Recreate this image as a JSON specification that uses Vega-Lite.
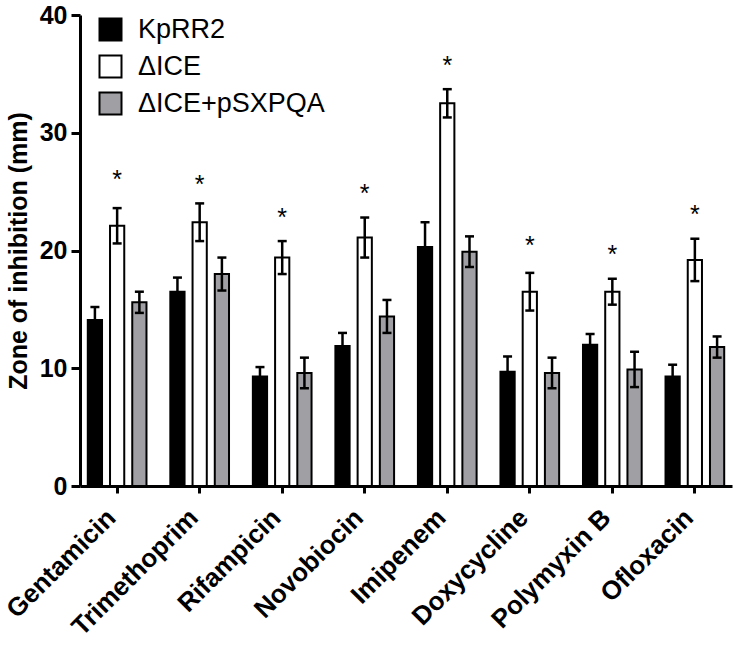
{
  "$schema": "https://vega.github.io/schema/vega-lite/v6.json",
  "width": 652,
  "height": 471,
  "autosize": "none",
  "padding": {"left": 80, "top": 15, "right": 6, "bottom": 161},
  "background": "white",
  "config": {
    "view": {"stroke": null},
    "font": "Liberation Sans",
    "axis": {"grid": false, "domainColor": "black", "tickColor": "black", "labelColor": "black", "titleColor": "black"}
  },
  "data": {
    "values": [
      {"drug": "Gentamicin", "strain": "KpRR2", "mean": 14.1, "lo": 13.0, "hi": 15.2},
      {"drug": "Gentamicin", "strain": "ΔICE", "mean": 22.1, "lo": 20.6, "hi": 23.6, "star": 26.5},
      {"drug": "Gentamicin", "strain": "ΔICE+pSXPQA", "mean": 15.6, "lo": 14.7, "hi": 16.5},
      {"drug": "Trimethoprim", "strain": "KpRR2", "mean": 16.5, "lo": 15.3, "hi": 17.7},
      {"drug": "Trimethoprim", "strain": "ΔICE", "mean": 22.4, "lo": 20.8, "hi": 24.0, "star": 26.1},
      {"drug": "Trimethoprim", "strain": "ΔICE+pSXPQA", "mean": 18.0, "lo": 16.6, "hi": 19.4},
      {"drug": "Rifampicin", "strain": "KpRR2", "mean": 9.3, "lo": 8.5, "hi": 10.1},
      {"drug": "Rifampicin", "strain": "ΔICE", "mean": 19.4, "lo": 18.0, "hi": 20.8, "star": 23.3},
      {"drug": "Rifampicin", "strain": "ΔICE+pSXPQA", "mean": 9.6, "lo": 8.3, "hi": 10.9},
      {"drug": "Novobiocin", "strain": "KpRR2", "mean": 11.9, "lo": 10.8, "hi": 13.0},
      {"drug": "Novobiocin", "strain": "ΔICE", "mean": 21.1, "lo": 19.4, "hi": 22.8, "star": 25.3},
      {"drug": "Novobiocin", "strain": "ΔICE+pSXPQA", "mean": 14.4, "lo": 13.0, "hi": 15.8},
      {"drug": "Imipenem", "strain": "KpRR2", "mean": 20.3, "lo": 18.2, "hi": 22.4},
      {"drug": "Imipenem", "strain": "ΔICE", "mean": 32.5, "lo": 31.3, "hi": 33.7, "star": 36.2},
      {"drug": "Imipenem", "strain": "ΔICE+pSXPQA", "mean": 19.9, "lo": 18.6, "hi": 21.2},
      {"drug": "Doxycycline", "strain": "KpRR2", "mean": 9.7, "lo": 8.4, "hi": 11.0},
      {"drug": "Doxycycline", "strain": "ΔICE", "mean": 16.5, "lo": 14.9, "hi": 18.1, "star": 20.9},
      {"drug": "Doxycycline", "strain": "ΔICE+pSXPQA", "mean": 9.6, "lo": 8.3, "hi": 10.9},
      {"drug": "Polymyxin B", "strain": "KpRR2", "mean": 12.0, "lo": 11.1, "hi": 12.9},
      {"drug": "Polymyxin B", "strain": "ΔICE", "mean": 16.5, "lo": 15.4, "hi": 17.6, "star": 20.1},
      {"drug": "Polymyxin B", "strain": "ΔICE+pSXPQA", "mean": 9.9, "lo": 8.4, "hi": 11.4},
      {"drug": "Ofloxacin", "strain": "KpRR2", "mean": 9.3, "lo": 8.3, "hi": 10.3},
      {"drug": "Ofloxacin", "strain": "ΔICE", "mean": 19.2, "lo": 17.4, "hi": 21.0, "star": 23.5},
      {"drug": "Ofloxacin", "strain": "ΔICE+pSXPQA", "mean": 11.8, "lo": 10.9, "hi": 12.7}
    ]
  },
  "encoding": {
    "x": {
      "field": "drug", "type": "nominal",
      "sort": ["Gentamicin", "Trimethoprim", "Rifampicin", "Novobiocin", "Imipenem", "Doxycycline", "Polymyxin B", "Ofloxacin"],
      "scale": {"paddingInner": 0.2, "paddingOuter": 0.05},
      "axis": {
        "title": null, "labelAngle": -45, "labelAlign": "right", "labelBaseline": "alphabetic",
        "labelFont": "Liberation Sans", "labelFontWeight": "bold", "labelFontSize": 26,
        "labelPadding": 26, "tickSize": 7, "tickWidth": 3, "domainWidth": 3, "labelOverlap": false
      }
    },
    "xOffset": {
      "field": "strain", "type": "nominal",
      "sort": ["KpRR2", "ΔICE", "ΔICE+pSXPQA"],
      "scale": {"paddingInner": 0.36, "paddingOuter": 0.165}
    }
  },
  "layer": [
    {
      "mark": {"type": "bar", "stroke": "black", "strokeWidth": 2},
      "encoding": {
        "y": {
          "field": "mean", "type": "quantitative",
          "scale": {"domain": [0, 40], "nice": false},
          "axis": {
            "title": "Zone of inhibition (mm)", "values": [0, 10, 20, 30, 40],
            "titleFont": "Liberation Sans", "titleFontWeight": "bold", "titleFontSize": 25,
            "titlePadding": 8,
            "labelFont": "Liberation Sans", "labelFontWeight": "bold", "labelFontSize": 25,
            "labelPadding": 4, "tickSize": 9, "tickWidth": 3, "domainWidth": 3
          }
        },
        "color": {
          "field": "strain", "type": "nominal",
          "sort": ["KpRR2", "ΔICE", "ΔICE+pSXPQA"],
          "scale": {"domain": ["KpRR2", "ΔICE", "ΔICE+pSXPQA"], "range": ["#000000", "#ffffff", "#a0a0a4"]},
          "legend": {
            "title": null, "orient": "none", "legendX": 17, "legendY": 1,
            "symbolType": "square", "symbolSize": 484, "symbolStrokeColor": "black", "symbolStrokeWidth": 2,
            "symbolOpacity": 1,
            "labelFont": "Liberation Sans", "labelFontSize": 27, "labelColor": "black",
            "labelOffset": 14, "rowPadding": 6, "labelLimit": 400
          }
        }
      }
    },
    {
      "mark": {"type": "rule", "stroke": "black", "strokeWidth": 2.5},
      "encoding": {
        "y": {"field": "lo", "type": "quantitative"},
        "y2": {"field": "hi"}
      }
    },
    {
      "mark": {"type": "tick", "color": "black", "size": 9, "thickness": 2.5, "opacity": 1},
      "encoding": {"y": {"field": "hi", "type": "quantitative"}}
    },
    {
      "mark": {"type": "tick", "color": "black", "size": 9, "thickness": 2.5, "opacity": 1},
      "encoding": {"y": {"field": "lo", "type": "quantitative"}}
    },
    {
      "transform": [{"filter": "isValid(datum.star)"}],
      "mark": {"type": "text", "text": "*", "font": "Liberation Sans", "fontSize": 25, "baseline": "alphabetic", "dy": 14, "color": "black"},
      "encoding": {"y": {"field": "star", "type": "quantitative"}}
    }
  ]
}
